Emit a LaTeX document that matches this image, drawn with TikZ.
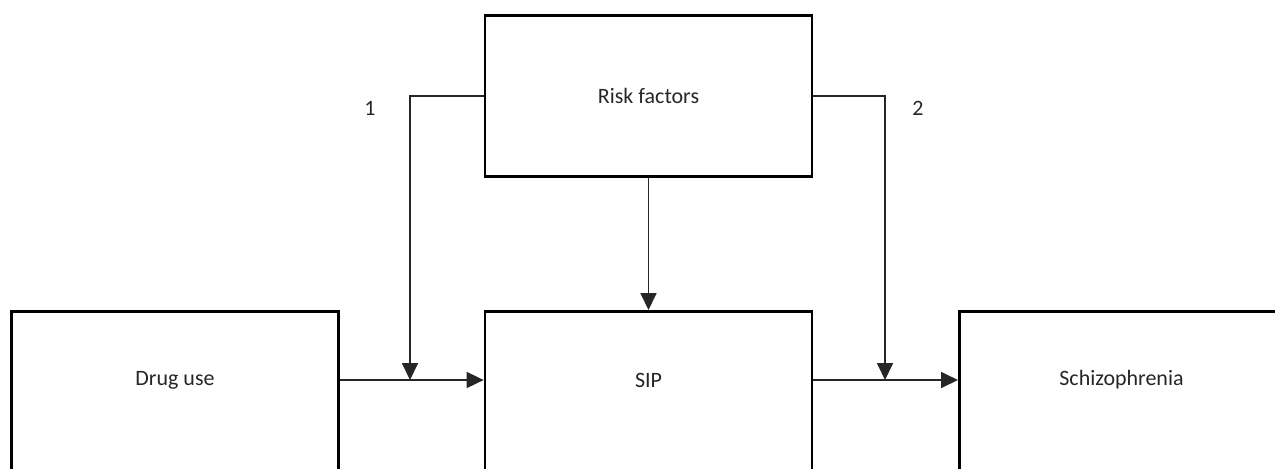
\documentclass[tikz,border=0pt]{standalone}
\usepackage{fontspec}
\setmainfont{Carlito}
\usetikzlibrary{arrows.meta}
\tikzset{box/.style={draw=black, line width=1.6pt, minimum width=6.54cm, minimum height=3.8cm, anchor=north}}
\tikzset{lbl/.style={text=black!85, font=\fontsize{12.5}{15}\selectfont}}
\tikzset{link/.style={draw=black!85, line width=1pt}}
\tikzset{tip/.style={-{Triangle[length=0.34cm, width=0.32cm]}}}

\begin{document}
\begin{tikzpicture}[x=0.02cm, y=-0.02cm]
	\useasboundingbox (0,0) rectangle (1275,468);
	\clip (0,0) rectangle (1275,468);
	\node[box, minimum height=3.22cm] (risk) at (648.5,14) {};
	\node[box] (drug) at (175,310) {};
	\node[box] (sip) at (648.5,310) {};
	\node[box, minimum width=7.5cm, anchor=north west] (schizo) at (958,310) {};
	\node[lbl] (risklbl) at (648.5,96) {Risk factors};
	\node[lbl] (druglbl) at (175,380) {Drug use};
	\node[lbl] (siplbl) at (648.5,380) {SIP};
	\node[lbl] (schizolbl) at (1121.5,380) {Schizophrenia};
	\node[lbl] (one) at (370,108) {1};
	\node[lbl] (two) at (918,108) {2};
	\coordinate (bend1) at (410,96);
	\coordinate (bend2) at (885,96);

	\draw[link, tip] (druglbl -| drug.east) -- (siplbl -| sip.west);
	\draw[link, tip] (siplbl -| sip.east) -- (schizolbl -| schizo.west);
	\draw[link, tip] (risk.south) -- (sip.north);
	\draw[link, tip] (risklbl -| risk.west) -- (bend1) -- (bend1 |- druglbl);
	\draw[link, tip] (risklbl -| risk.east) -- (bend2) -- (bend2 |- schizolbl);
\end{tikzpicture}
\end{document}
